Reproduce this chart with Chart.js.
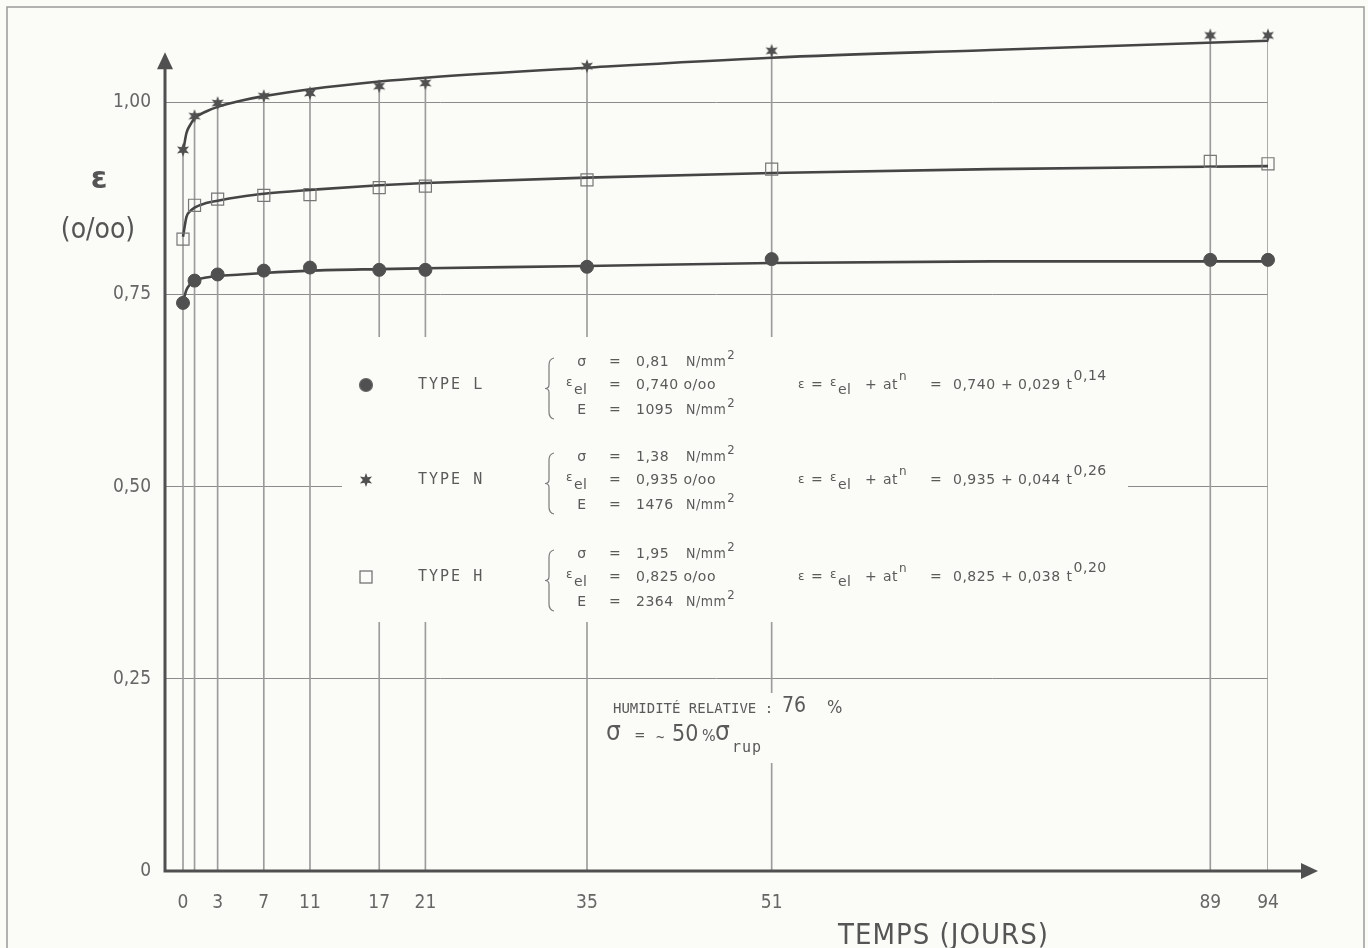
<!DOCTYPE html>
<html>
<head>
<meta charset="utf-8">
<script src="https://cdn.jsdelivr.net/npm/chart.js@4.4.1/dist/chart.umd.min.js"></script>
<style>
html, body { margin: 0; padding: 0; background: #fbfbf7; }
#wrap { width: 1368px; height: 948px; position: relative; }
</style>
</head>
<body>
<div id="wrap"><canvas id="graph"></canvas></div>
<script>
const days  = [0, 1, 3, 7, 11, 17, 21, 35, 51, 89, 94];
const typeL = [0.739, 0.768, 0.776, 0.781, 0.785, 0.782, 0.782, 0.786, 0.796, 0.795, 0.795];
const typeN = [0.938, 0.982, 0.999, 1.008, 1.012, 1.021, 1.025, 1.047, 1.067, 1.087, 1.087];
const typeH = [0.822, 0.866, 0.874, 0.879, 0.880, 0.889, 0.891, 0.899, 0.913, 0.923, 0.920];

// the fitted curves, read at a few days
const curveDays = [0, 0.3, 0.6, 1, 2, 3, 5, 7, 11, 17, 21, 35, 51, 70, 94];
const curveL = [0.740, 0.756, 0.763, 0.768, 0.772, 0.774, 0.776, 0.778, 0.781, 0.783, 0.784, 0.787, 0.791, 0.793, 0.793];
const curveN = [0.935, 0.960, 0.970, 0.979, 0.988, 0.994, 1.002, 1.008, 1.017, 1.027, 1.032, 1.045, 1.058, 1.068, 1.080];
const curveH = [0.825, 0.851, 0.858, 0.863, 0.869, 0.872, 0.877, 0.881, 0.886, 0.892, 0.895, 0.902, 0.908, 0.913, 0.917];

const xTicks = [0, 3, 7, 11, 17, 21, 35, 51, 89, 94];
const yTicks = [0, 0.25, 0.50, 0.75, 1.00];

const INK = '#505050';
const PAPER = '#fbfbf7';
const CONDENSED = '"DejaVu Sans Condensed", "DejaVu Sans", sans-serif';
const SANS = '"DejaVu Sans", sans-serif';
const MONO = '"DejaVu Sans Mono", monospace';

function starImage(r) {
    const c = document.createElement('canvas');
    c.width = c.height = 2 * r + 2;
    const g = c.getContext('2d');
    g.fillStyle = INK;
    g.beginPath();
    for (let i = 0; i < 12; i++) {
        const a = -Math.PI / 2 + i * Math.PI / 6;
        const rr = i % 2 ? r * 0.45 : r;
        g.lineTo(r + 1 + rr * Math.cos(a), r + 1 + rr * Math.sin(a));
    }
    g.closePath();
    g.fill();
    return c;
}
const star = starImage(7);

const pts = (xs, ys) => xs.map((x, i) => ({ x: x, y: ys[i] }));

// draws a string, returns the x where it ends
function txt(ctx, s, x, y, font, align) {
    ctx.font = font;
    ctx.textAlign = align || 'left';
    ctx.fillText(s, x, y);
    return x + ctx.measureText(s).width;
}

function brace(ctx, x, top, bottom) {
    const mid = (top + bottom) / 2;
    ctx.beginPath();
    ctx.moveTo(x + 5, top);
    ctx.quadraticCurveTo(x, top + 1, x, top + 7);
    ctx.lineTo(x, mid - 4);
    ctx.quadraticCurveTo(x, mid, x - 4, mid);
    ctx.quadraticCurveTo(x, mid, x, mid + 4);
    ctx.lineTo(x, bottom - 7);
    ctx.quadraticCurveTo(x, bottom - 1, x + 5, bottom);
    ctx.stroke();
}

// legend block: one group per type
const groups = [
    { y: 385, style: 'circle', name: 'TYPE L', sigma: '0,81', eel: '0,740', E: '1095', a: '0,029', n: '0,14' },
    { y: 480, style: 'star',   name: 'TYPE N', sigma: '1,38', eel: '0,935', E: '1476', a: '0,044', n: '0,26' },
    { y: 577, style: 'rect',   name: 'TYPE H', sigma: '1,95', eel: '0,825', E: '2364', a: '0,038', n: '0,20' }
];

const decor = {
    id: 'decor',
    beforeDraw(chart) {
        const ctx = chart.ctx;
        ctx.save();
        ctx.fillStyle = PAPER;
        ctx.fillRect(0, 0, chart.width, chart.height);
        ctx.strokeStyle = '#9a9a9a';
        ctx.lineWidth = 1.5;
        ctx.beginPath();
        ctx.moveTo(7, chart.height);
        ctx.lineTo(7, 7);
        ctx.lineTo(1364, 7);
        ctx.lineTo(1364, chart.height);
        ctx.stroke();
        ctx.restore();
    },
    afterDatasetsDraw(chart) {
        const ctx = chart.ctx;
        const area = chart.chartArea;
        const ys = chart.scales.y;
        ctx.save();

        // paper patches over the grid
        ctx.fillStyle = PAPER;
        ctx.fillRect(342, 337, 786, 285);
        ctx.fillRect(592, 693, 270, 70);

        ctx.fillStyle = '#5a5a5a';
        ctx.strokeStyle = '#7a7a7a';
        ctx.lineWidth = 1.2;
        ctx.textBaseline = 'middle';
        const f14 = '14px ' + SANS;
        const fEps = '12px ' + SANS;
        ctx.letterSpacing = '0.5px';
        groups.forEach(g => {
            const y = g.y;
            ctx.save();
            ctx.fillStyle = INK;
            ctx.strokeStyle = '#6a6a6a';
            if (g.style === 'star') {
                Chart.helpers.drawPoint(ctx, { pointStyle: star, radius: 7, rotation: 0 }, 366, y);
            } else if (g.style === 'circle') {
                Chart.helpers.drawPoint(ctx, { pointStyle: 'circle', radius: 6.5, rotation: 0, borderWidth: 1 }, 366, y);
            } else {
                ctx.lineWidth = 1.2;
                ctx.strokeRect(360, y - 6, 12, 12);
            }
            ctx.restore();

            ctx.letterSpacing = '2px';
            txt(ctx, g.name, 418, y, '15px ' + MONO);
            ctx.letterSpacing = '0.5px';

            brace(ctx, 549, y - 27, y + 34);

            const top = y - 23, bot = y + 25;
            txt(ctx, 'σ', 582, top, f14, 'center');
            let e = txt(ctx, 'ε', 566, y - 2, fEps);
            txt(ctx, 'el', e + 1, y + 5, f14);
            txt(ctx, 'E', 582, bot, f14, 'center');
            [top, y, bot].forEach(r => txt(ctx, '=', 615, r, f14, 'center'));
            txt(ctx, g.sigma, 636, top, f14);
            txt(ctx, g.eel + ' o/oo', 636, y, f14);
            txt(ctx, g.E, 636, bot, f14);
            [top, bot].forEach(r => {
                const end = txt(ctx, 'N/mm', 686, r, '14px ' + CONDENSED);
                txt(ctx, '2', end + 1, r - 6, '13px ' + CONDENSED);
            });

            // fitted law
            txt(ctx, 'ε', 798, y, fEps);
            txt(ctx, '=', 811, y, f14);
            e = txt(ctx, 'ε', 830, y - 2, fEps);
            txt(ctx, 'el', e + 1, y + 5, f14);
            txt(ctx, '+', 865, y, f14);
            e = txt(ctx, 'at', 883, y, f14);
            txt(ctx, 'n', e + 1, y - 8, '12px ' + SANS);
            txt(ctx, '=', 930, y, f14);
            txt(ctx, g.eel, 953, y, f14);
            txt(ctx, '+', 1001, y, f14);
            e = txt(ctx, g.a, 1018, y, f14);
            e = txt(ctx, 't', e + 6, y, f14);
            txt(ctx, g.n, e + 1, y - 9, f14);
        });

        // test conditions
        ctx.letterSpacing = '0px';
        txt(ctx, 'HUMIDITÉ RELATIVE :', 613, 709, '14px ' + MONO);
        txt(ctx, '76', 782, 707, '21px ' + CONDENSED);
        txt(ctx, '%', 827, 708, '18px ' + CONDENSED);
        txt(ctx, 'σ', 606, 733, '26px ' + CONDENSED);
        txt(ctx, '=', 635, 736, '16px ' + MONO);
        txt(ctx, '~', 656, 738, '14px ' + MONO);
        txt(ctx, '50', 672, 735, '23px ' + CONDENSED);
        txt(ctx, '%', 702, 737, '16px ' + CONDENSED);
        txt(ctx, 'σ', 715, 733, '26px ' + CONDENSED);
        ctx.letterSpacing = '1px';
        txt(ctx, 'rup', 732, 748, '15px ' + MONO);
        ctx.letterSpacing = '0px';

        // axes with arrows
        ctx.strokeStyle = INK;
        ctx.fillStyle = INK;
        ctx.lineWidth = 3;
        const x0 = area.left, y0 = area.bottom;
        const tipY = ys.getPixelForValue(1.065);
        const tipX = area.right + 50;
        ctx.beginPath();
        ctx.moveTo(x0, y0 + 1.5);
        ctx.lineTo(x0, tipY + 14);
        ctx.moveTo(x0 - 1.5, y0);
        ctx.lineTo(tipX - 14, y0);
        ctx.stroke();
        ctx.beginPath();
        ctx.moveTo(x0, tipY);
        ctx.lineTo(x0 - 8, tipY + 17);
        ctx.lineTo(x0 + 8, tipY + 17);
        ctx.closePath();
        ctx.fill();
        ctx.beginPath();
        ctx.moveTo(tipX, y0);
        ctx.lineTo(tipX - 17, y0 - 8);
        ctx.lineTo(tipX - 17, y0 + 8);
        ctx.closePath();
        ctx.fill();

        // axis titles
        ctx.fillStyle = '#555';
        txt(ctx, 'ε', 99, 180, 'bold 30px "DejaVu Sans", sans-serif', 'center');
        txt(ctx, '(o/oo)', 98, 231, '28px ' + CONDENSED, 'center');
        ctx.letterSpacing = '1px';
        txt(ctx, 'TEMPS (JOURS)', 838, 936, '29px ' + CONDENSED);
        ctx.restore();
    }
};

new Chart(document.getElementById('graph'), {
    type: 'line',
    data: {
        datasets: [
            { type: 'bar', data: pts(days, typeN), barThickness: 1, backgroundColor: '#9c9c9c', order: 10 },
            { type: 'line', data: pts(curveDays, curveN), borderColor: '#454545', borderWidth: 2.6,
              pointRadius: 0, cubicInterpolationMode: 'monotone', order: 5 },
            { type: 'line', data: pts(curveDays, curveH), borderColor: '#454545', borderWidth: 2.6,
              pointRadius: 0, cubicInterpolationMode: 'monotone', order: 5 },
            { type: 'line', data: pts(curveDays, curveL), borderColor: '#454545', borderWidth: 2.6,
              pointRadius: 0, cubicInterpolationMode: 'monotone', order: 5 },
            { type: 'scatter', label: 'TYPE L', data: pts(days, typeL), pointStyle: 'circle', pointRadius: 6.5,
              backgroundColor: INK, borderColor: INK, borderWidth: 1, clip: false, order: 1 },
            { type: 'scatter', label: 'TYPE N', data: pts(days, typeN), pointStyle: star, pointRadius: 7,
              clip: false, order: 1 },
            { type: 'scatter', label: 'TYPE H', data: pts(days, typeH), pointStyle: 'rect', pointRadius: 8.5,
              backgroundColor: 'rgba(0,0,0,0)', borderColor: '#777', borderWidth: 1.2, clip: false, order: 1 }
        ]
    },
    options: {
        responsive: true,
        maintainAspectRatio: false,
        animation: false,
        events: [],
        layout: { padding: { top: 22, right: 100, left: 0, bottom: 0 } },
        plugins: { legend: { display: false }, tooltip: { enabled: false } },
        scales: {
            x: {
                type: 'linear', min: -1.56, max: 94, offset: false,
                afterBuildTicks: s => { s.ticks = xTicks.map(v => ({ value: v })); },
                afterFit: s => { s.height = 77; },
                grid: { display: false },
                border: { display: false },
                ticks: { padding: 13, color: '#666', autoSkip: false, maxRotation: 0,
                         font: { family: CONDENSED, size: 19 }, callback: v => String(v) }
            },
            y: {
                type: 'linear', min: 0, max: 1.10,
                afterBuildTicks: s => { s.ticks = yTicks.map(v => ({ value: v })); },
                afterFit: s => { s.width = 165; },
                grid: { color: '#8c8c8c', lineWidth: 1, drawTicks: false },
                border: { display: false },
                ticks: { padding: 14, color: '#666', font: { family: CONDENSED, size: 19 },
                         callback: v => v === 0 ? '0' : v.toFixed(2).replace('.', ',') }
            }
        }
    },
    plugins: [decor]
});
</script>
</body>
</html>
